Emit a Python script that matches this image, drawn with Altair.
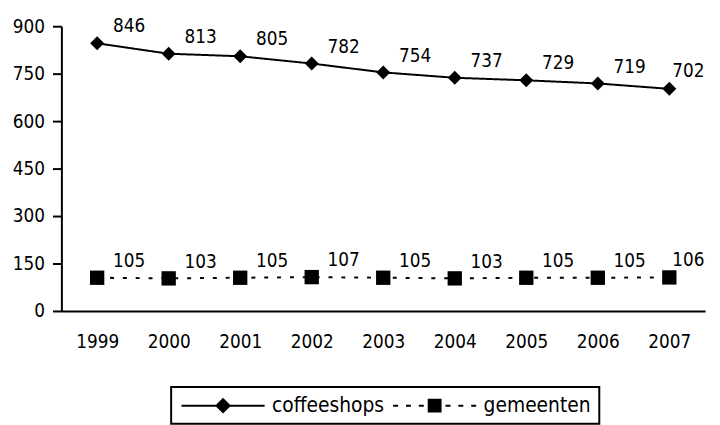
import altair as alt
import pandas as pd

years = ["1999", "2000", "2001", "2002", "2003", "2004", "2005", "2006", "2007"]
coffeeshops = [846, 813, 805, 782, 754, 737, 729, 719, 702]
gemeenten = [105, 103, 105, 107, 105, 103, 105, 105, 106]
series_names = ["coffeeshops", "gemeenten"]
y_ticks = [0, 150, 300, 450, 600, 750, 900]

rows = []
for y, v in zip(years, coffeeshops):
    rows.append({"year": y, "value": v, "series": "coffeeshops"})
for y, v in zip(years, gemeenten):
    rows.append({"year": y, "value": v, "series": "gemeenten"})
df = pd.DataFrame(rows)

FONT = "DejaVu Sans Condensed"
FS = 19

x_enc = alt.X("year:O", sort=years, title=None,
              scale=alt.Scale(type="point", padding=0.5),
              axis=alt.Axis(labelAngle=0, ticks=False, domainColor="black",
                            domainWidth=2, labelPadding=22, grid=False))
y_enc = alt.Y("value:Q", title=None,
              scale=alt.Scale(domain=[0, 900], nice=False),
              axis=alt.Axis(values=y_ticks, domainColor="black", domainWidth=2,
                            tickColor="black", tickWidth=2, tickSize=9,
                            labelPadding=8, grid=False))

is_gem = "datum.series == 'gemeenten'"
DASH = [4, 9]

base = alt.Chart(df)

lines = base.mark_line(color="black", strokeWidth=2).encode(
    x=x_enc, y=y_enc, detail="series:N",
    strokeDash=alt.condition(is_gem, alt.value(DASH), alt.value([1, 0])),
)

points = base.mark_point(filled=True, color="black", opacity=1).encode(
    x=x_enc, y=y_enc,
    shape=alt.condition(is_gem, alt.value("square"), alt.value("diamond")),
    size=alt.condition(is_gem, alt.value(210), alt.value(200)),
)

labels = base.transform_filter("datum.year != '2007'").mark_text(
    align="left", baseline="middle", dx=16, dy=-17, font=FONT, fontSize=FS, color="black"
).encode(x=x_enc, y=y_enc, text="value:Q")

labels_last = base.transform_filter("datum.year == '2007'").mark_text(
    align="left", baseline="middle", dx=3, dy=-18, font=FONT, fontSize=FS, color="black"
).encode(x=x_enc, y=y_enc, text="value:Q")

# legend symbols drawn as filled shapes; size 256 -> 1 unit = 8px; span -1..9.5 units
h = 0.125
def bar(x0, x1):
    return f"M{x0},{-h}L{x1},{-h}L{x1},{h}L{x0},{h}Z"

sym_coffee = bar(-1, 9.5) + "M4.25,-1L5.25,0L4.25,1L3.25,0Z"
sym_gem = (bar(-1, -0.375) + bar(0.625, 1.25) + bar(2.25, 2.875)
           + "M3.375,-0.875L5.125,-0.875L5.125,0.875L3.375,0.875Z"
           + bar(5.625, 6.25) + bar(7.25, 7.875) + bar(8.875, 9.5))

legend_def = alt.Legend(
    title=None, orient="none", legendX=111, legendY=365,
    direction="horizontal", strokeColor="black",
    padding=8, labelFont=FONT, labelFontSize=21,
    labelColor="black", labelOffset=73, columnPadding=6,
    symbolFillColor="black", symbolStrokeColor="black",
    symbolStrokeWidth=0, symbolOpacity=1, symbolSize=256,
)

legend_layer = base.transform_filter("datum.value < 0").mark_point(
    filled=True, color="black", size=256, opacity=1
).encode(
    x=x_enc, y=y_enc,
    shape=alt.Shape("series:N", scale=alt.Scale(domain=series_names, range=[sym_coffee, sym_gem]),
                    legend=legend_def),
)

chart = alt.layer(lines, points, labels, labels_last, legend_layer).properties(
    width=651, height=288,
    autosize=alt.AutoSizeParams(type="none"),
    padding={"left": 54, "top": 16, "right": 7, "bottom": 120},
).configure_view(stroke=None).configure_axis(
    labelFont=FONT, labelFontSize=FS, labelColor="black"
).configure_legend(
    strokeWidth=2
)

chart.save("out.html", embed_options={"renderer": "svg", "actions": False})
